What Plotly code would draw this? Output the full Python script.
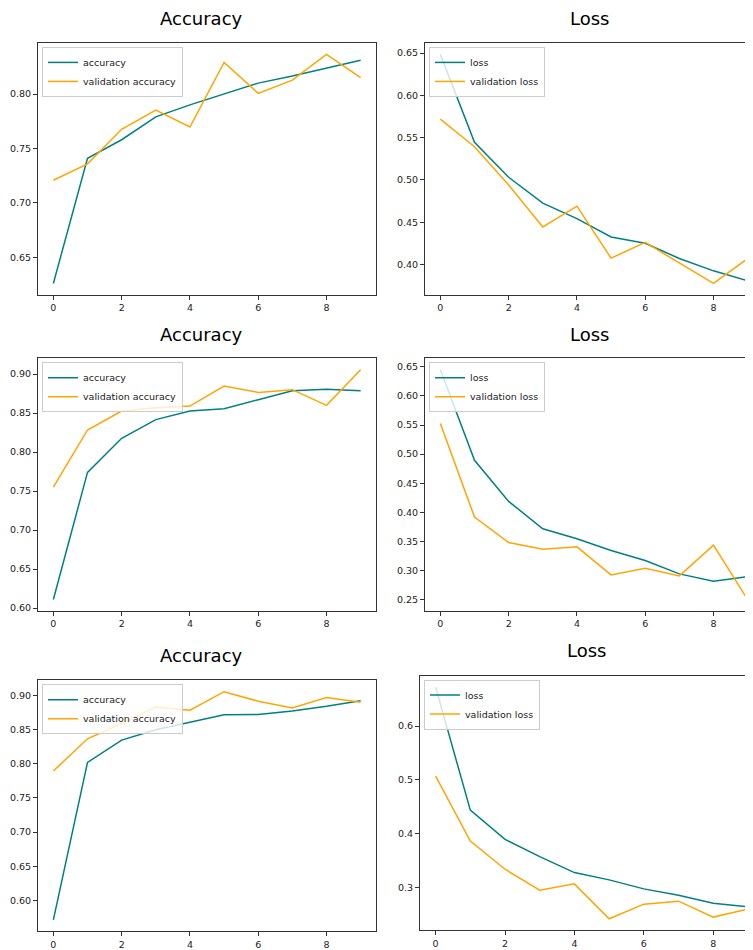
import plotly.graph_objects as go

epochs = list(range(10))

# Run 1
acc1 = [0.626, 0.741, 0.758, 0.779, 0.790, 0.800, 0.810, 0.8165, 0.8236, 0.831]
val_acc1 = [0.7208, 0.7358, 0.7676, 0.7853, 0.7697, 0.829, 0.8006, 0.8128, 0.8364, 0.815]
loss1 = [0.6485, 0.5444, 0.5032, 0.4726, 0.4542, 0.4326, 0.4251, 0.4071, 0.3925, 0.3807]
val_loss1 = [0.5719, 0.5393, 0.4941, 0.4444, 0.469, 0.4075, 0.4261, 0.4015, 0.3776, 0.407]

# Run 2
acc2 = [0.611, 0.774, 0.8177, 0.8416, 0.8526, 0.8556, 0.8671, 0.8787, 0.8804, 0.8787]
val_acc2 = [0.755, 0.8283, 0.8526, 0.8569, 0.859, 0.8846, 0.8765, 0.880, 0.8599, 0.9055]
loss2 = [0.645, 0.4893, 0.4187, 0.3716, 0.3544, 0.3343, 0.3170, 0.2941, 0.2815, 0.2895]
val_loss2 = [0.5524, 0.3917, 0.3480, 0.3365, 0.3406, 0.2923, 0.3038, 0.2906, 0.3434, 0.250]

# Run 3
acc3 = [0.5714, 0.8019, 0.8345, 0.8495, 0.8607, 0.8714, 0.8718, 0.8772, 0.884, 0.8922]
val_acc3 = [0.7893, 0.8364, 0.8587, 0.883, 0.8782, 0.9053, 0.8913, 0.8816, 0.8966, 0.8898]
loss3 = [0.6722, 0.4438, 0.3895, 0.3574, 0.3278, 0.3142, 0.2975, 0.2858, 0.271, 0.2642]
val_loss3 = [0.5068, 0.3864, 0.3340, 0.2951, 0.3068, 0.2420, 0.2691, 0.2747, 0.2451, 0.2599]

# the page body has an 8px margin; the figure starts at (8, 8) in the window
OFF = 8
W, H = 753 - OFF, 950 - OFF
TEAL = "#008080"
ORANGE = "#FFA500"
FONT = "DejaVu Sans"

# panels: (train, val, train name, val name, title, box px in window (l, t, r, b), x range end, y dtick, y fmt, title pos)
panels = [
    (acc1, val_acc1, "accuracy", "validation accuracy", "Accuracy", (38, 43, 376, 295.5), 9.45, 0.05, ".2f", (201, 19)),
    (loss1, val_loss1, "loss", "validation loss", "Loss", (425, 43, 753, 295.5), 9.157, 0.05, ".2f", (589, 19)),
    (acc2, val_acc2, "accuracy", "validation accuracy", "Accuracy", (38, 359, 376, 612.3), 9.45, 0.05, ".2f", (201, 335)),
    (loss2, val_loss2, "loss", "validation loss", "Loss", (425, 359, 753, 612.3), 9.157, 0.05, ".2f", (589, 335)),
    (acc3, val_acc3, "accuracy", "validation accuracy", "Accuracy", (38, 681.7, 376, 933.3), 9.45, 0.05, ".2f", (201, 657)),
    (loss3, val_loss3, "loss", "validation loss", "Loss", (420, 677, 753, 932.3), 9.146, 0.1, ".1f", (586, 652)),
]

fig = go.Figure()
layout = dict(
    width=W, height=H,
    margin=dict(l=0, r=0, t=0, b=0),
    paper_bgcolor="white", plot_bgcolor="white",
    font=dict(family=FONT, size=9, color="#222222"),
    annotations=[],
)

for i, (tr, va, trn, van, title, box, xend, dt, fmt, tpos) in enumerate(panels):
    n = i + 1
    sfx = "" if n == 1 else str(n)
    l, t, r, b = [v - OFF for v in box]
    lo = min(min(tr), min(va)); hi = max(max(tr), max(va))
    pad = (hi - lo) * 0.05
    leg = "legend" if n == 1 else f"legend{n}"
    fig.add_trace(go.Scatter(x=epochs, y=tr, mode="lines", name=trn,
                             line=dict(color=TEAL, width=1.5),
                             xaxis=f"x{sfx}", yaxis=f"y{sfx}", legend=leg))
    fig.add_trace(go.Scatter(x=epochs, y=va, mode="lines", name=van,
                             line=dict(color=ORANGE, width=1.5),
                             xaxis=f"x{sfx}", yaxis=f"y{sfx}", legend=leg))
    right_cut = r >= W
    layout[f"xaxis{sfx}"] = dict(
        domain=[l / W, min(r / W, 1)], anchor=f"y{sfx}", range=[-0.45, xend],
        tickmode="linear", tick0=0, dtick=2, showgrid=False, zeroline=False,
        showline=True, linecolor="#333333", linewidth=1, mirror=True,
        ticks="outside", ticklen=4, tickcolor="#333333",
        tickfont=dict(family=FONT, size=9.5, color="#222222"),
    )
    layout[f"yaxis{sfx}"] = dict(
        domain=[1 - b / H, 1 - t / H], anchor=f"x{sfx}", range=[lo - pad, hi + pad],
        tickmode="linear", tick0=0, dtick=dt, tickformat=fmt,
        showgrid=False, zeroline=False,
        showline=True, linecolor="#333333", linewidth=1, mirror=not right_cut,
        ticks="outside", ticklen=4, tickcolor="#333333",
        tickfont=dict(family=FONT, size=9.5, color="#222222"),
    )
    layout[leg] = dict(
        x=(l + 4) / W, y=1 - (t + 4) / H, xanchor="left", yanchor="top",
        bgcolor="rgba(255,255,255,0.8)", bordercolor="#cccccc", borderwidth=1,
        font=dict(family=FONT, size=9.5, color="#222222"),
        itemwidth=30, tracegroupgap=0,
    )
    layout["annotations"].append(dict(
        text=title, x=(tpos[0] - OFF) / W, y=1 - (tpos[1] - OFF) / H, xref="paper", yref="paper",
        xanchor="center", yanchor="middle", showarrow=False,
        font=dict(family=FONT, size=18, color="#000000"),
    ))

fig.update_layout(**layout)
fig.write_html("out.html")
